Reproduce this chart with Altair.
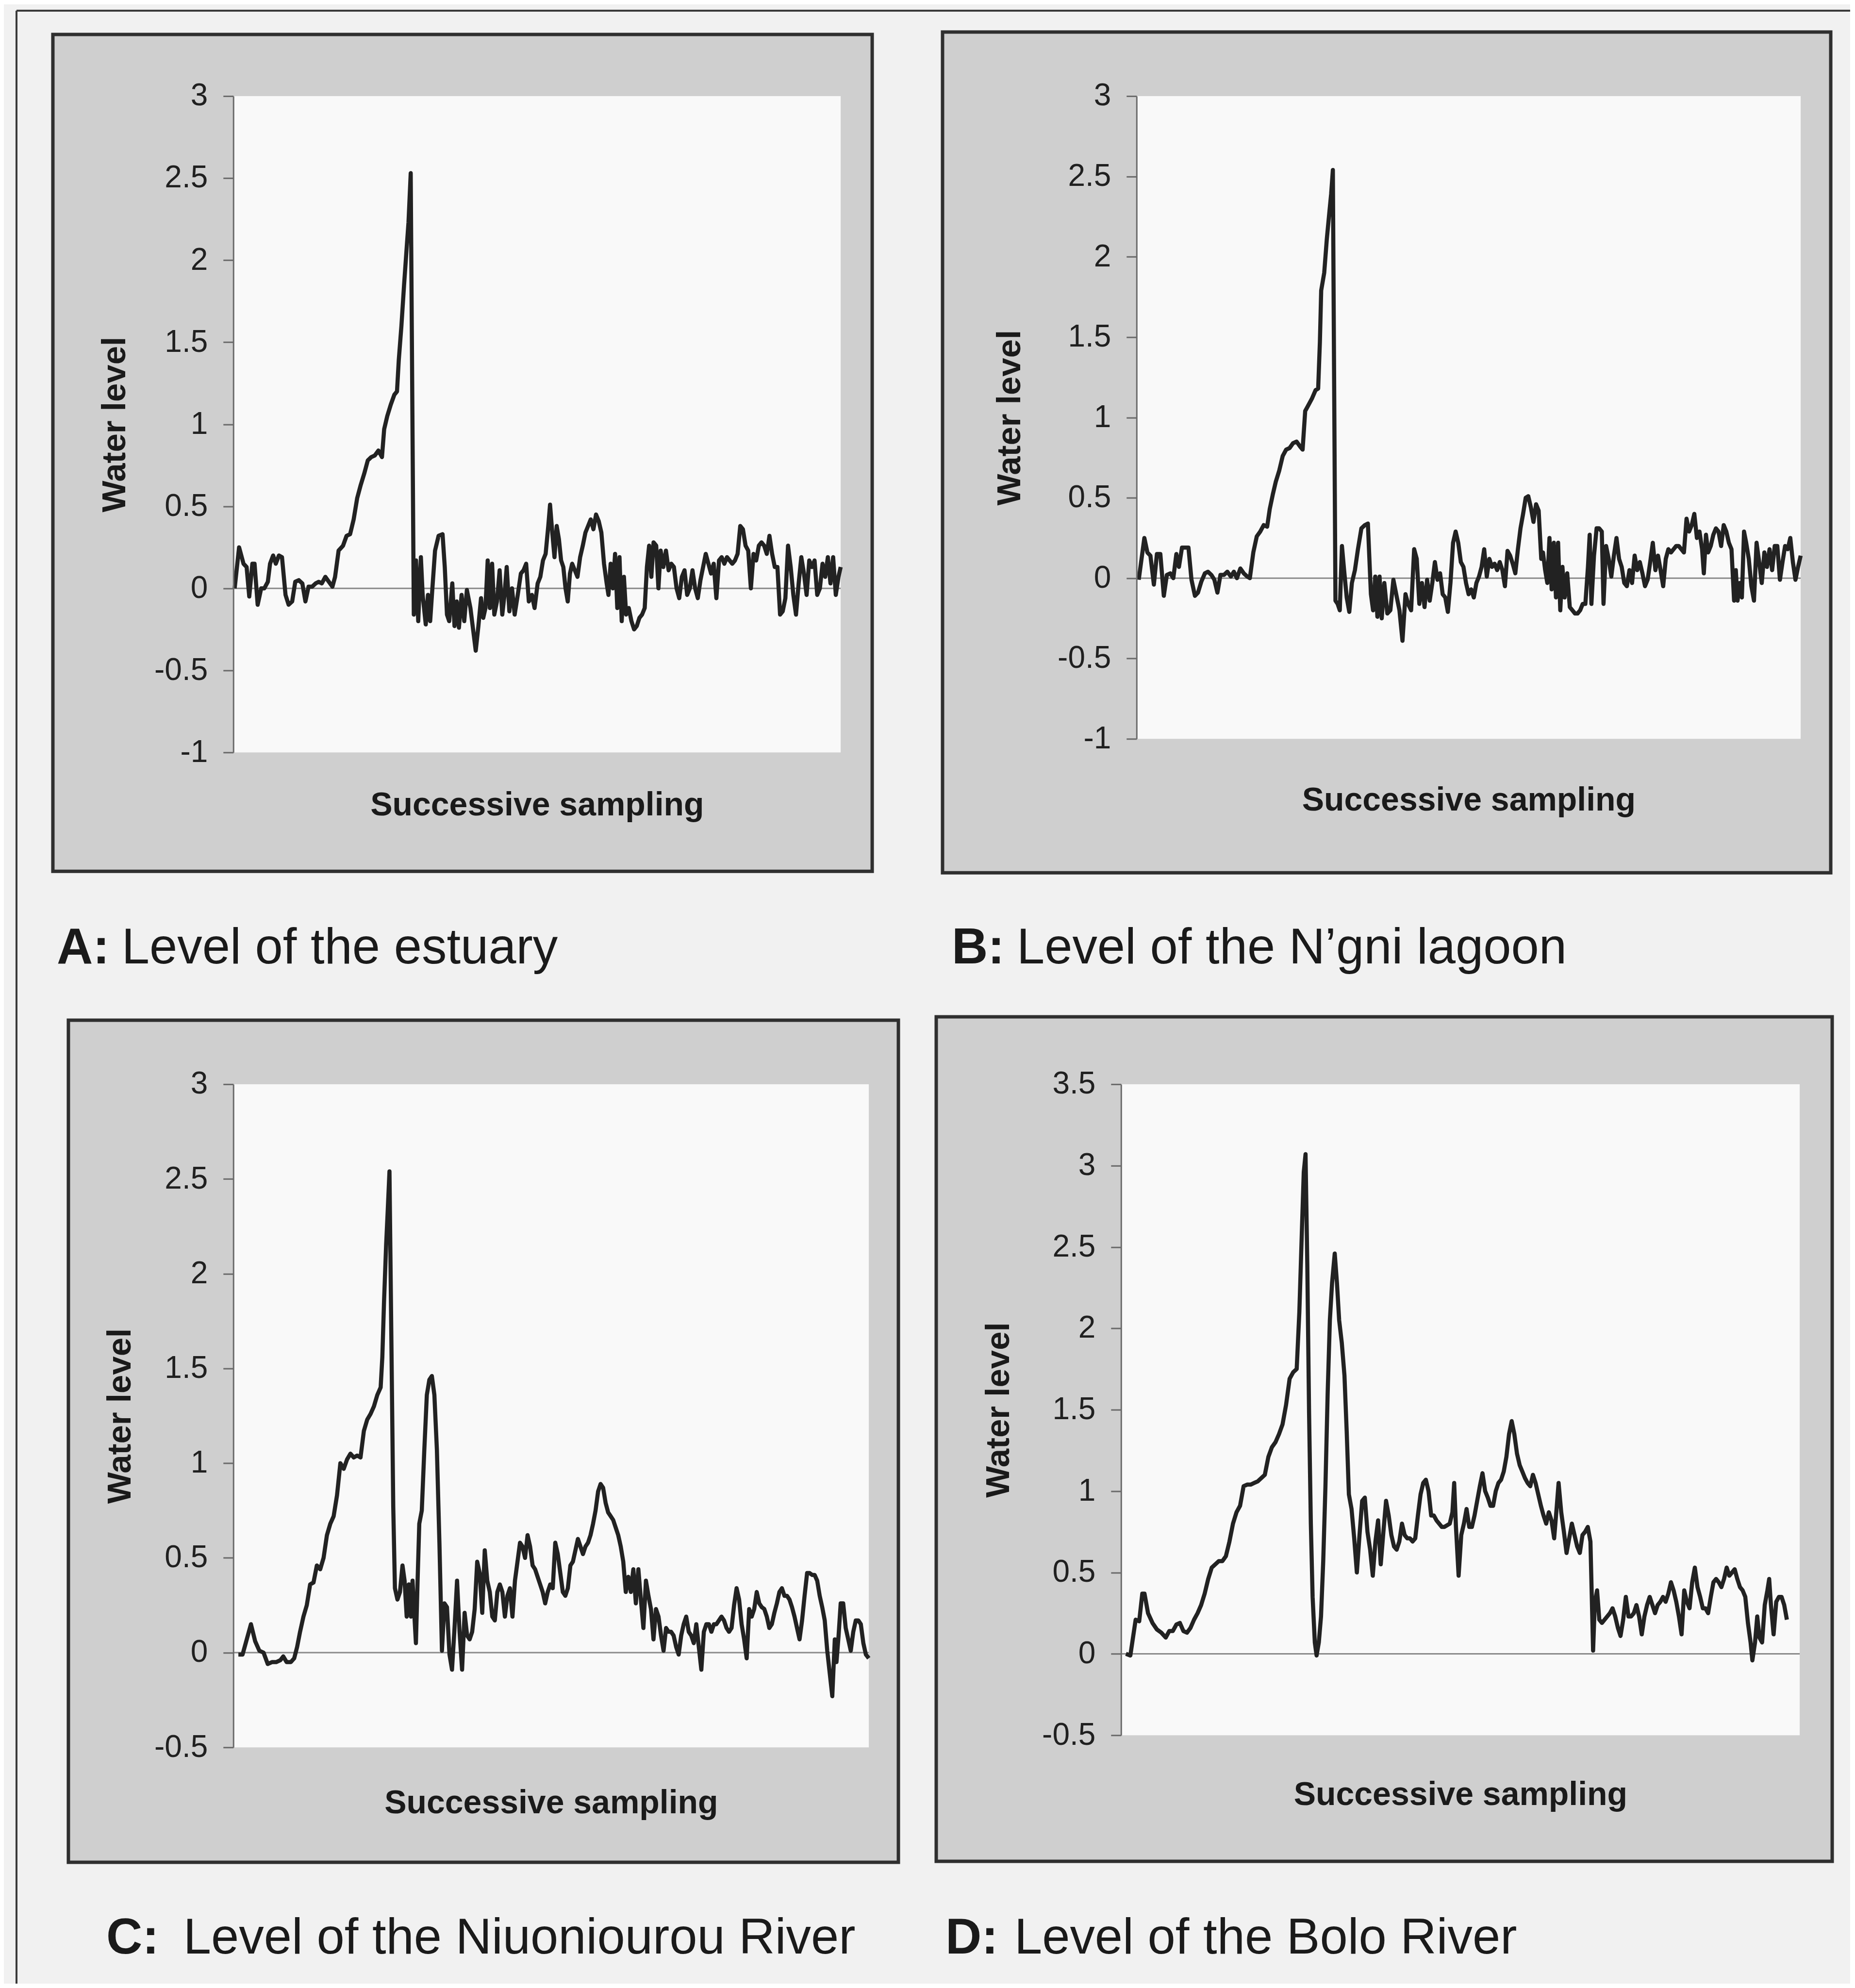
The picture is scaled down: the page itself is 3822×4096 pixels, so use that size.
import altair as alt
import pandas as pd

FONT = "Liberation Sans"

# ---------------- data (sampling position, water level) ----------------
A_points = [(95,0),(105,0.25),(115,0.15),(122,0.13),(128,-0.05),(135,0.15),(140,0.15),(147,-0.10),(155,0),(162,0),
 (170,0.04),(175,0.15),(182,0.2),(188,0.15),(195,0.2),(202,0.19),(210,-0.04),(217,-0.1),(225,-0.08),(232,0.04),
 (240,0.05),(248,0.03),(255,-0.08),(262,0.01),(270,0.01),(278,0.03),(285,0.04),(292,0.03),(300,0.07),(308,0.04),
 (316,0.01),(322,0.07),(330,0.23),(340,0.26),(348,0.32),(356,0.33),(364,0.42),(372,0.55),(380,0.63),(388,0.70),
 (396,0.78),(404,0.80),(412,0.81),(420,0.84),(428,0.80),(433,0.97),(440,1.05),(448,1.12),(456,1.18),(462,1.20),
 (466,1.39),(472,1.60),(478,1.85),(484,2.08),(488,2.23),(493,2.53),(500,-0.16),(505,0.17),(510,-0.2),(516,0.19),
 (520,-0.04),(527,-0.22),(532,-0.04),(537,-0.2),(542,0),(548,0.23),(556,0.32),(565,0.33),(570,0.13),(575,-0.16),
 (580,-0.2),(587,0.03),(592,-0.23),(597,-0.08),(602,-0.24),(608,-0.04),(614,-0.2),(620,-0.01),(628,-0.12),(634,-0.25),
 (640,-0.38),(646,-0.23),(652,-0.06),(657,-0.18),(662,-0.12),(667,0.17),(672,-0.12),(677,0.15),(682,-0.16),(688,-0.08),
 (694,0.11),(700,-0.16),(705,-0.04),(710,0.13),(716,-0.14),(722,0),(728,-0.16),(735,-0.04),(742,0.09),(748,0.11),
 (754,0.15),(760,-0.08),(767,-0.04),(773,-0.12),(780,0.03),(786,0.07),(792,0.17),(798,0.21),(804,0.38),(808,0.51),
 (813,0.34),(818,0.19),(823,0.38),(828,0.30),(833,0.17),(838,0.13),(843,0),(848,-0.08),(853,0.09),(858,0.15),
 (864,0.11),(870,0.07),(876,0.19),(882,0.26),(888,0.34),(894,0.38),(900,0.42),(906,0.36),(912,0.45),(918,0.41),
 (924,0.34),(930,0.15),(936,0.03),(940,-0.04),(945,0.15),(950,0),(955,0.21),(960,-0.12),(965,0.19),(970,-0.2),
 (975,0.07),(980,-0.16),(986,-0.12),(992,-0.2),(998,-0.25),(1004,-0.23),(1010,-0.18),(1016,-0.16),(1022,-0.12),(1027,0.13),
 (1032,0.26),(1037,0.07),(1042,0.28),(1048,0.26),(1053,0),(1058,0.23),(1064,0.13),(1070,0.23),(1076,0.11),(1082,0.15),
 (1088,0.13),(1094,0),(1100,-0.06),(1106,0.07),(1112,0.11),(1118,-0.04),(1124,0),(1130,0.11),(1136,0),(1142,-0.06),
 (1148,0.05),(1154,0.13),(1160,0.21),(1166,0.15),(1172,0.09),(1178,0.15),(1184,-0.06),(1190,0.17),(1196,0.19),(1202,0.15),
 (1208,0.19),(1214,0.17),(1220,0.15),(1226,0.17),(1232,0.21),(1238,0.38),(1244,0.36),(1250,0.26),(1256,0.23),(1262,0),
 (1268,0.21),(1274,0.17),(1280,0.26),(1286,0.28),(1292,0.26),(1298,0.21),(1304,0.32),(1310,0.21),(1316,0.13),(1322,0.13),
 (1328,-0.16),(1334,-0.14),(1340,-0.06),(1346,0.26),(1352,0.13),(1358,-0.04),(1364,-0.16),(1370,0.03),(1376,0.19),(1382,0.09),
 (1388,-0.04),(1394,0.17),(1400,0.13),(1406,0.17),(1412,-0.04),(1418,0),(1424,0.15),(1430,0.07),(1436,0.19),(1442,0.03),
 (1448,0.19),(1454,-0.04),(1460,0.07),(1465,0.13)]

B_points = [(15,-0.01),(28,0.25),(35,0.16),(42,0.14),(50,-0.04),(57,0.15),(65,0.15),(73,-0.11),(80,0.02),(88,0.03),
 (95,0),(102,0.15),(108,0.07),(115,0.19),(122,0.19),(130,0.19),(137,-0.01),(145,-0.11),(152,-0.09),(160,-0.02),
 (168,0.03),(175,0.04),(183,0.02),(190,-0.01),(197,-0.09),(204,0.02),(212,0.02),(220,0.04),(228,0.01),(235,0.04),
 (242,0),(250,0.06),(258,0.03),(266,0.01),(272,0),(280,0.16),(288,0.26),(296,0.29),(304,0.33),(312,0.32),
 (318,0.43),(325,0.52),(332,0.60),(340,0.67),(348,0.76),(356,0.80),(364,0.81),(372,0.84),(380,0.85),(388,0.82),
 (394,0.80),(400,1.04),(408,1.08),(416,1.12),(424,1.17),(430,1.18),(434,1.47),(437,1.79),(444,1.90),(450,2.11),
 (456,2.28),(460,2.39),(464,2.54),(470,-0.14),(475,-0.16),(480,-0.2),(485,0.2),(490,0.05),(496,-0.12),(502,-0.21),
 (508,-0.03),(515,0.05),(522,0.18),(530,0.31),(538,0.33),(545,0.34),(552,-0.1),(557,-0.2),(562,0.01),(567,-0.24),
 (572,0.01),(577,-0.25),(583,-0.03),(590,-0.22),(597,-0.2),(604,-0.01),(612,-0.12),(618,-0.2),(625,-0.39),(632,-0.1),
 (638,-0.16),(645,-0.2),(652,0.18),(658,0.12),(664,-0.16),(670,-0.03),(676,-0.18),(682,-0.01),(688,-0.14),(694,-0.03),
 (700,0.1),(706,-0.01),(712,0.03),(718,-0.1),(724,-0.12),(730,-0.21),(736,-0.03),(742,0.22),(748,0.29),(754,0.22),
 (760,0.1),(766,0.07),(772,-0.03),(778,-0.1),(784,-0.07),(790,-0.12),(796,-0.03),(802,0.01),(808,0.07),(814,0.18),
 (820,0.01),(826,0.12),(832,0.07),(838,0.09),(844,0.05),(850,0.1),(856,0.05),(862,-0.05),(868,0.17),(874,0.14),
 (880,0.09),(886,0.03),(892,0.18),(898,0.31),(904,0.4),(910,0.5),(916,0.51),(922,0.44),(928,0.35),(934,0.46),
 (940,0.42),(946,0.12),(950,0.16),(955,0.05),(960,-0.03),(965,0.25),(970,-0.07),(975,0.22),(980,-0.12),(985,0.22),
 (990,-0.2),(995,0.07),(1000,-0.12),(1006,0.03),(1012,-0.18),(1018,-0.2),(1024,-0.22),(1030,-0.22),(1036,-0.2),(1042,-0.16),
 (1048,-0.16),(1054,0.07),(1058,0.27),(1062,-0.16),(1068,0.14),(1074,0.31),(1080,0.31),(1086,0.29),(1090,-0.16),(1096,0.2),
 (1102,0.12),(1108,0.01),(1114,0.14),(1120,0.25),(1126,0.12),(1132,0.07),(1138,-0.03),(1144,-0.05),(1150,0.05),(1156,-0.03),
 (1162,0.14),(1168,0.05),(1174,0.1),(1180,0.03),(1186,-0.05),(1192,-0.01),(1198,0.1),(1204,0.22),(1210,0.05),(1216,0.14),
 (1222,0.05),(1228,-0.05),(1234,0.12),(1240,0.18),(1246,0.16),(1252,0.18),(1258,0.2),(1264,0.2),(1270,0.18),(1276,0.16),
 (1282,0.37),(1288,0.29),(1294,0.33),(1300,0.4),(1306,0.25),(1312,0.29),(1318,0.18),(1322,0.03),(1327,0.27),(1332,0.16),
 (1338,0.2),(1344,0.27),(1350,0.31),(1356,0.29),(1362,0.2),(1368,0.33),(1374,0.29),(1380,0.22),(1386,0.18),(1392,-0.14),
 (1396,0.05),(1400,-0.14),(1405,-0.03),(1410,-0.12),(1415,0.29),(1420,0.22),(1426,0.12),(1432,-0.05),(1438,-0.14),(1444,0.22),
 (1450,0.1),(1456,-0.03),(1462,0.16),(1468,0.07),(1474,0.18),(1480,0.05),(1486,0.2),(1492,0.2),(1498,-0.01),(1504,0.1),
 (1510,0.2),(1516,0.18),(1522,0.25),(1528,0.1),(1534,-0.01),(1540,0.07),(1546,0.14)]

C_points = [(25,-0.01),(35,-0.01),(45,0.07),(55,0.15),(65,0.06),(75,0.01),(85,0),(95,-0.06),(105,-0.05),(115,-0.05),
 (125,-0.04),(132,-0.02),(140,-0.05),(150,-0.05),(158,-0.03),(165,0.03),(172,0.11),(180,0.19),(188,0.25),(196,0.36),
 (204,0.37),(212,0.46),(220,0.44),(228,0.5),(236,0.62),(244,0.68),(252,0.72),(260,0.83),(268,1.0),(276,0.97),
 (284,1.02),(292,1.05),(300,1.03),(308,1.04),(316,1.03),(324,1.17),(332,1.23),(340,1.26),(348,1.3),(356,1.36),
 (364,1.4),(368,1.56),(372,1.85),(377,2.15),(381,2.34),(385,2.54),(390,1.56),(394,0.77),(398,0.34),(404,0.28),
 (410,0.32),(416,0.46),(421,0.38),(426,0.19),(431,0.36),(436,0.19),(440,0.38),(444,0.21),(448,0.05),(452,0.38),
 (456,0.68),(462,0.75),(468,1.07),(474,1.36),(480,1.44),(486,1.46),(492,1.36),(498,1.07),(504,0.58),(510,0.01),
 (516,0.26),(522,0.24),(528,-0.01),(534,-0.09),(540,0.13),(546,0.38),(552,0.11),(558,-0.09),(564,0.21),(570,0.09),
 (576,0.07),(582,0.11),(588,0.23),(594,0.48),(600,0.42),(606,0.21),(612,0.54),(618,0.38),(624,0.32),(630,0.19),
 (636,0.17),(642,0.32),(648,0.36),(654,0.32),(660,0.19),(666,0.3),(672,0.34),(678,0.19),(684,0.38),(690,0.48),
 (696,0.58),(702,0.56),(708,0.5),(714,0.62),(720,0.56),(726,0.46),(732,0.44),(738,0.4),(744,0.36),(750,0.32),
 (756,0.26),(762,0.32),(768,0.36),(774,0.34),(780,0.58),(786,0.52),(792,0.42),(798,0.32),(804,0.3),(810,0.34),
 (816,0.46),(822,0.48),(828,0.54),(834,0.6),(840,0.56),(846,0.52),(852,0.56),(858,0.58),(864,0.62),(870,0.68),
 (876,0.75),(882,0.85),(888,0.89),(894,0.87),(900,0.79),(906,0.74),(912,0.72),(918,0.7),(924,0.66),(930,0.62),
 (936,0.56),(942,0.48),(948,0.32),(954,0.4),(960,0.32),(966,0.44),(972,0.26),(978,0.44),(984,0.28),(990,0.13),
 (996,0.38),(1002,0.3),(1008,0.23),(1014,0.07),(1020,0.23),(1026,0.19),(1032,0.09),(1038,0.01),(1044,0.13),(1050,0.11),
 (1056,0.11),(1062,0.09),(1068,0.03),(1074,-0.01),(1080,0.09),(1086,0.15),(1092,0.19),(1098,0.11),(1104,0.09),(1110,0.05),
 (1116,0.15),(1122,0.03),(1128,-0.09),(1134,0.11),(1140,0.15),(1146,0.15),(1152,0.11),(1158,0.15),(1164,0.15),(1170,0.17),
 (1176,0.19),(1182,0.17),(1188,0.13),(1194,0.11),(1200,0.13),(1206,0.25),(1212,0.34),(1218,0.28),(1224,0.15),(1230,0.07),
 (1236,-0.03),(1242,0.23),(1248,0.19),(1254,0.23),(1260,0.32),(1266,0.26),(1272,0.24),(1278,0.23),(1284,0.19),(1290,0.13),
 (1296,0.15),(1302,0.21),(1308,0.26),(1314,0.32),(1320,0.34),(1326,0.3),(1332,0.3),(1338,0.28),(1344,0.24),(1350,0.19),
 (1356,0.13),(1362,0.07),(1368,0.17),(1374,0.3),(1380,0.42),(1386,0.42),(1392,0.41),(1398,0.41),(1404,0.38),(1410,0.3),
 (1416,0.24),(1422,0.17),(1428,0.01),(1434,-0.11),(1440,-0.23),(1446,0.07),(1450,-0.05),(1455,0.09),(1460,0.26),(1466,0.26),
 (1472,0.13),(1478,0.07),(1484,0.01),(1490,0.11),(1496,0.17),(1502,0.17),(1508,0.15),(1514,0.05),(1520,-0.01),(1527,-0.03)]

D_points = [(20,0),(30,-0.01),(42,0.21),(50,0.2),(57,0.37),(62,0.37),(70,0.25),(80,0.19),(90,0.15),(100,0.13),
 (110,0.1),(118,0.14),(126,0.14),(134,0.18),(142,0.19),(150,0.14),(158,0.13),(166,0.16),(174,0.21),(182,0.25),
 (190,0.3),(198,0.37),(206,0.46),(214,0.53),(222,0.55),(230,0.57),(238,0.57),(246,0.6),(254,0.69),(262,0.8),
 (270,0.87),(278,0.91),(286,1.03),(294,1.04),(302,1.04),(310,1.05),(318,1.06),(326,1.08),(334,1.1),(342,1.21),
 (350,1.27),(358,1.3),(366,1.35),(374,1.41),(382,1.53),(390,1.69),(398,1.73),(406,1.75),(412,2.1),(418,2.62),
 (422,2.96),(426,3.07),(430,2.39),(434,1.48),(438,0.8),(442,0.35),(447,0.07),(451,-0.01),(456,0.07),(461,0.23),
 (466,0.57),(471,1.03),(476,1.6),(481,2.05),(486,2.28),(492,2.46),(497,2.28),(502,2.05),(508,1.91),(514,1.71),
 (519,1.37),(524,0.98),(530,0.89),(536,0.71),(542,0.5),(548,0.73),(554,0.94),(560,0.96),(566,0.75),(572,0.64),
 (578,0.48),(584,0.69),(590,0.82),(596,0.55),(602,0.75),(608,0.94),(614,0.85),(620,0.73),(626,0.66),(632,0.64),
 (638,0.69),(644,0.8),(650,0.73),(656,0.71),(662,0.71),(668,0.69),(674,0.71),(680,0.85),(686,0.98),(692,1.05),
 (698,1.07),(704,1.0),(710,0.85),(716,0.85),(722,0.82),(728,0.8),(734,0.78),(740,0.78),(746,0.79),(752,0.8),
 (758,0.87),(762,1.05),(766,0.78),(772,0.48),(778,0.73),(784,0.8),(790,0.89),(796,0.78),(802,0.78),(808,0.85),
 (814,0.94),(820,1.03),(826,1.11),(832,1.0),(838,0.96),(844,0.91),(850,0.91),(856,1.0),(862,1.05),(868,1.07),
 (874,1.12),(880,1.21),(886,1.35),(892,1.43),(898,1.35),(904,1.23),(910,1.16),(916,1.12),(922,1.08),(928,1.05),
 (934,1.03),(940,1.1),(946,1.05),(952,0.98),(958,0.91),(964,0.85),(970,0.8),(976,0.87),(982,0.82),(988,0.71),
 (994,0.91),(998,1.05),(1004,0.87),(1010,0.75),(1016,0.62),(1022,0.71),(1028,0.8),(1034,0.73),(1040,0.66),(1046,0.62),
 (1052,0.73),(1058,0.75),(1064,0.78),(1070,0.69),(1076,0.02),(1080,0.32),(1085,0.39),(1090,0.21),(1096,0.19),(1102,0.21),
 (1108,0.23),(1114,0.25),(1120,0.28),(1126,0.23),(1132,0.16),(1138,0.11),(1144,0.21),(1150,0.35),(1156,0.23),(1162,0.23),
 (1168,0.25),(1174,0.3),(1180,0.23),(1186,0.12),(1192,0.23),(1198,0.3),(1204,0.35),(1210,0.3),(1216,0.25),(1222,0.3),
 (1228,0.32),(1234,0.35),(1240,0.32),(1246,0.37),(1252,0.44),(1258,0.39),(1264,0.32),(1270,0.23),(1276,0.12),(1282,0.39),
 (1288,0.32),(1294,0.28),(1300,0.44),(1306,0.53),(1312,0.41),(1318,0.35),(1324,0.28),(1330,0.28),(1336,0.25),(1342,0.35),
 (1348,0.44),(1354,0.46),(1360,0.44),(1366,0.41),(1372,0.46),(1378,0.53),(1384,0.48),(1390,0.5),(1396,0.52),(1402,0.46),
 (1408,0.41),(1414,0.39),(1420,0.35),(1426,0.19),(1432,0.07),(1436,-0.04),(1442,0.07),(1447,0.23),(1452,0.1),(1458,0.07),
 (1464,0.3),(1470,0.39),(1474,0.46),(1478,0.3),(1484,0.12),(1490,0.32),(1496,0.35),(1502,0.35),(1508,0.3),(1514,0.21)]

ticks_AB = [-1, -0.5, 0, 0.5, 1, 1.5, 2, 2.5, 3]
ticks_C = [-0.5, 0, 0.5, 1, 1.5, 2, 2.5, 3]
ticks_D = [-0.5, 0, 0.5, 1, 1.5, 2, 2.5, 3, 3.5]

captions = [("A:", "Level of the estuary"), ("B:", "Level of the N\u2019gni lagoon"),
            ("C:", "Level of the Niuoniourou River"), ("D:", "Level of the Bolo River")]

ONE = pd.DataFrame({"k": [0]})
INK = "#1a1a1a"


def panel(points, xdom, ydom, ticks, w, h, box, ytitle_x, xtitle_y, cap, cap_x, rest_x, cap_y, extra=None):
    df = pd.DataFrame(points, columns=["sample", "level"])
    ysc = alt.Scale(domain=ydom, nice=False, zero=False)
    xsc = alt.Scale(domain=xdom, nice=False, zero=False)
    yaxis = alt.Axis(values=ticks, labelExpr="datum.value + ''", title="Water level",
                     titleFont=FONT, titleFontSize=69, titleFontWeight="bold", titleColor=INK,
                     titleAngle=270, titleX=ytitle_x, titleY=h / 2, titleAlign="center",
                     titleBaseline="middle", labelFont=FONT, labelFontSize=64, labelColor="#202020",
                     labelPadding=32, tickSize=21, tickColor="#6a6a6a", tickWidth=3,
                     domainColor="#6a6a6a", domainWidth=3, grid=False, zindex=1,
                     labelFlush=False, labelOverlap=False)
    xaxis = alt.Axis(title="Successive sampling", labels=False, ticks=False, domain=False, grid=False,
                     titleFont=FONT, titleFontSize=68, titleFontWeight="bold", titleColor=INK,
                     titleY=xtitle_y, titleBaseline="middle", titleAlign="center", titleX=w / 2, zindex=1)

    deco = alt.Chart(ONE)
    gray = deco.mark_rect(fill="#cfcfcf", stroke="#2f2f2f", strokeWidth=7).encode(
        x=alt.value(box[0]), x2=alt.value(box[1]), y=alt.value(box[2]), y2=alt.value(box[3]))
    white = deco.mark_rect(fill="#f9f9f9").encode(
        x=alt.value(0), x2=alt.value(w), y=alt.value(0), y2=alt.value(h))
    zero = alt.Chart(pd.DataFrame({"level": [0]})).mark_rule(color="#8a8a8a", strokeWidth=3).encode(
        y=alt.Y("level:Q", scale=ysc, axis=yaxis))
    line = alt.Chart(df).mark_line(color="#222222", strokeWidth=8.5, strokeJoin="round").encode(
        x=alt.X("sample:Q", scale=xsc, axis=xaxis),
        y=alt.Y("level:Q", scale=ysc, axis=yaxis))
    t1 = deco.mark_text(align="left", baseline="alphabetic", font=FONT, fontSize=103,
                        fontWeight="bold", color=INK).encode(
        x=alt.value(cap_x), y=alt.value(cap_y), text=alt.value(cap[0]))
    t2 = deco.mark_text(align="left", baseline="alphabetic", font=FONT, fontSize=103,
                        color=INK).encode(
        x=alt.value(rest_x), y=alt.value(cap_y), text=alt.value(cap[1]))
    layers = (extra or []) + [gray, white, zero, line, t1, t2]
    return alt.layer(*layers).properties(width=w, height=h)


# page background and page border (drawn in panel A's frame; they also anchor the layout)
bg = alt.Chart(ONE).mark_rect(fill="#f1f1f1").encode(
    x=alt.value(-473), x2=alt.value(3333), y=alt.value(-189), y2=alt.value(3891))
border_left = alt.Chart(ONE).mark_rule(color="#3a3a3a", strokeWidth=4).encode(
    x=alt.value(-447), y=alt.value(-176), y2=alt.value(3891))
border_top = alt.Chart(ONE).mark_rule(color="#3a3a3a", strokeWidth=4).encode(
    y=alt.value(-176), x=alt.value(-447), x2=alt.value(3333))

pA = panel(A_points, [92, 1465], [-1, 3], ticks_AB, 1252, 1353, (-372, 1317, -127, 1598),
           -244, 109, captions[0], -364, -230, 1788, extra=[bg, border_left, border_top])
pB = panel(B_points, [10, 1546], [-1, 3], ticks_AB, 1369, 1325, (-400, 1431, -132, 1601),
           -261, 127, captions[1], -381, -247, 1788)
pC = panel(C_points, [13, 1527], [-0.5, 3], ticks_C, 1310, 1367, (-340, 1371, -132, 1604),
           -233, 115, captions[2], -262, -103, 1792)
pD = panel(D_points, [9, 1543], [-0.5, 3.5], ticks_D, 1399, 1342, (-381, 1466, -139, 1602),
           -252, 123, captions[3], -362, -220, 1792)

row1 = alt.hconcat(pA, pB, spacing=610, bounds="flush")
row2 = alt.hconcat(pC, pD, spacing=520, bounds="flush")
# with flush bounds the nested rows count as zero height, so the spacing carries the row-1 height
chart = alt.vconcat(row1, row2, spacing=1353 + 684, bounds="flush").properties(
    padding=0, background="white"
).configure_view(stroke=None)

chart.save("out.html", embed_options={"renderer": "svg", "actions": False})
